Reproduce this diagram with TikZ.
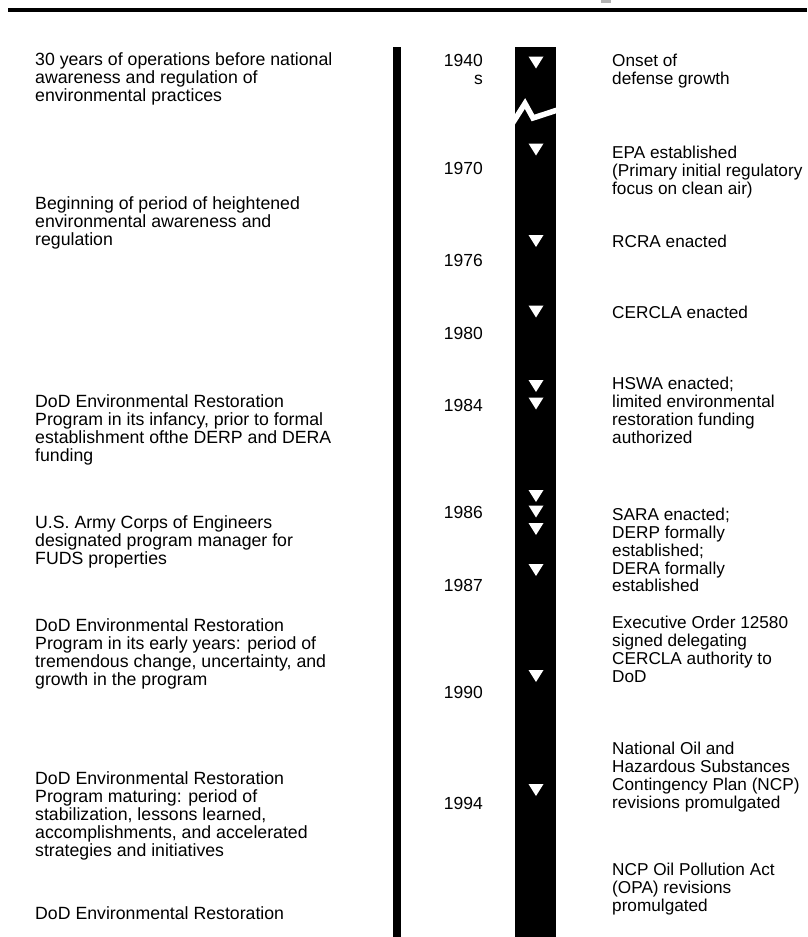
\documentclass[tikz,border=0pt]{standalone}
\usepackage{fontspec}
\setmainfont{Liberation Sans}
\begin{document}
\begin{tikzpicture}[x=1pt,y=-1pt,
  txtl/.style={anchor=north west, inner sep=0pt, align=left, font=\fontsize{17.7}{18}\selectfont},
  txtr/.style={anchor=north west, inner sep=0pt, align=left, font=\fontsize{17.2}{17.8}\selectfont},
  yr/.style={anchor=north east, inner sep=0pt, align=right, font=\fontsize{17.5}{18}\selectfont}]
\useasboundingbox (0,0) rectangle (807,937);
\fill[white] (0,0) rectangle (807,937);
% top rule and clipped title fragment
\draw[line width=4pt] (8,9.5) -- (807,9.5);
\fill[gray!60] (601,0) rectangle (611,2.5);
% left bar and timeline column
\fill (393,47) rectangle (401,937);
\fill (515,47) rectangle (556,937);
% break in the column
\draw[white, line width=5.5pt] (512,124) -- (525,103.5) -- (533,118) -- (559,109.5);
% event markers
\foreach \t in {62.5,149.5,241,311.5,386,403.5,496,511.5,529,570,676,790}
  {\fill[white] (528.5,\t-6) -- (543.5,\t-6) -- (536,\t+6) -- cycle;}
% years
\node[yr] (y1940) at (483,54) {1940\\s};
\node[yr] (y1970) at (483,162) {1970};
\node[yr] (y1976) at (483,254) {1976};
\node[yr] (y1980) at (483,327) {1980};
\node[yr] (y1984) at (483,399) {1984};
\node[yr] (y1986) at (483,506) {1986};
\node[yr] (y1987) at (483,579) {1987};
\node[yr] (y1990) at (483,686) {1990};
\node[yr] (y1994) at (483,797) {1994};
% left descriptions
\node[txtl] (l1) at (35,52) {30 years of operations before national\\awareness and regulation of\\environmental practices};
\node[txtl] (l2) at (35,196) {Beginning of period of heightened\\environmental awareness and\\regulation};
\node[txtl] (l3) at (35,394) {DoD Environmental Restoration\\Program in its infancy, prior to formal\\establishment ofthe DERP and DERA\\funding};
\node[txtl] (l4) at (35,515) {U.S. Army Corps of Engineers\\designated program manager for\\FUDS properties};
\node[txtl] (l5) at (35,618) {DoD Environmental Restoration\\Program in its early years:  period of\\tremendous change, uncertainty, and\\growth in the program};
\node[txtl] (l6) at (35,771) {DoD Environmental Restoration\\Program  maturing:  period of\\stabilization, lessons learned,\\accomplishments, and accelerated\\strategies and initiatives};
\node[txtl] (l7) at (35,906) {DoD Environmental Restoration};
% right events
\node[txtr] (r1) at (612,54) {Onset of\\defense growth};
\node[txtr] (r2) at (612,146) {EPA established\\(Primary initial regulatory\\focus on clean air)};
\node[txtr] (r3) at (612,235) {RCRA enacted};
\node[txtr] (r4) at (612,306) {CERCLA enacted};
\node[txtr] (r5) at (612,377) {HSWA enacted;\\limited environmental\\restoration funding\\authorized};
\node[txtr] (r6) at (612,508) {SARA enacted;\\DERP formally\\established;\\DERA formally\\established};
\node[txtr] (r7) at (612,616) {Executive Order 12580\\signed delegating\\CERCLA authority to\\DoD};
\node[txtr] (r8) at (612,742) {National Oil and\\Hazardous Substances\\Contingency Plan (NCP)\\revisions promulgated};
\node[txtr] (r9) at (612,863) {NCP Oil Pollution Act\\(OPA) revisions\\promulgated};
\end{tikzpicture}
\end{document}
